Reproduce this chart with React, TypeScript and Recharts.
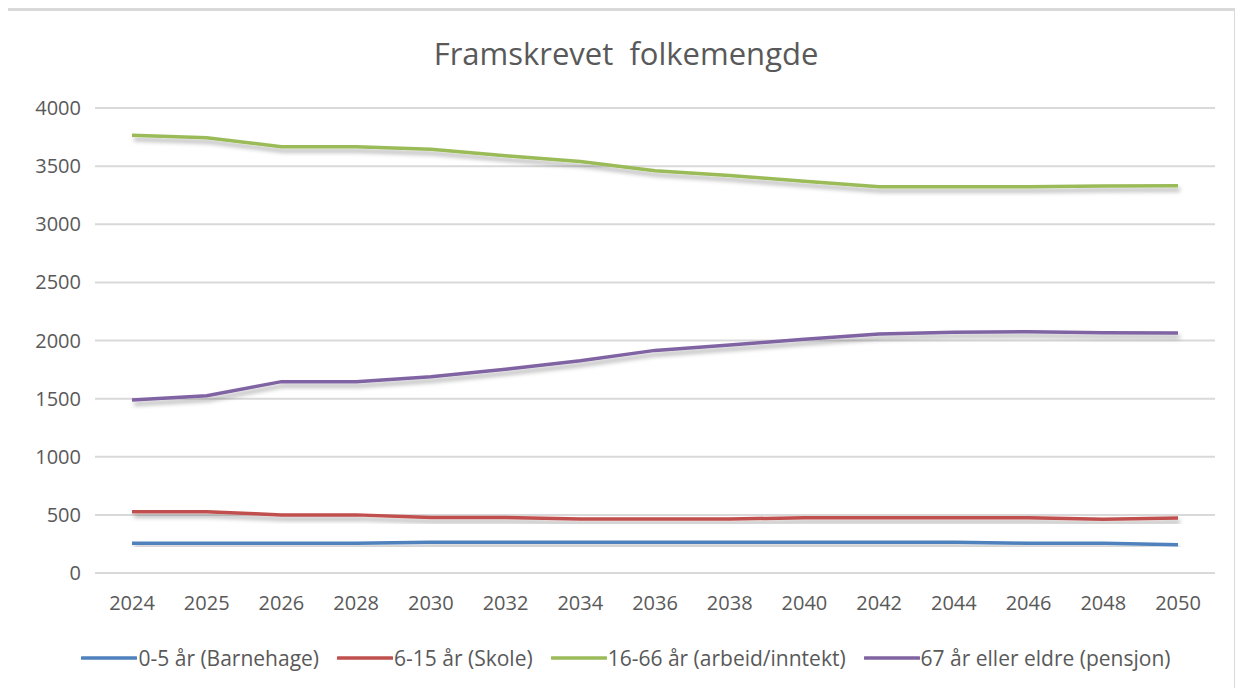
import React from 'react';
import { LineChart, Line, XAxis, YAxis, CartesianGrid } from 'recharts';

const years = ['2024', '2025', '2026', '2028', '2030', '2032', '2034', '2036', '2038', '2040', '2042', '2044', '2046', '2048', '2050'];
const barnehage = [255, 255, 255, 255, 265, 265, 265, 265, 265, 265, 265, 265, 255, 255, 243];
const skole = [527, 527, 500, 500, 477, 477, 464, 464, 464, 476, 476, 476, 476, 462, 473];
const arbeid = [3765, 3745, 3667, 3667, 3645, 3590, 3540, 3460, 3420, 3370, 3323, 3323, 3323, 3330, 3332];
const pensjon = [1488, 1525, 1646, 1646, 1689, 1752, 1826, 1915, 1961, 2010, 2056, 2070, 2076, 2067, 2065];
const yTicks = [0, 500, 1000, 1500, 2000, 2500, 3000, 3500, 4000];

const series = [
  { key: 'b', name: '0-5 år (Barnehage)', color: '#4F81BD', values: barnehage },
  { key: 's', name: '6-15 år (Skole)', color: '#C0504D', values: skole },
  { key: 'a', name: '16-66 år (arbeid/inntekt)', color: '#9BBB59', values: arbeid },
  { key: 'p', name: '67 år eller eldre (pensjon)', color: '#8064A2', values: pensjon },
];

const data = years.map((y, i) => {
  const row: any = { year: y };
  series.forEach((s) => (row[s.key] = s.values[i]));
  return row;
});

const FONT = '"Open Sans", "Liberation Sans", sans-serif';
const TEXT = '#595959';

export default function App() {
  return (
    <div style={{ position: 'relative', width: 1236, height: 690 }}>
      <svg width={0} height={0} style={{ position: 'absolute' }}>
        <defs>
          <filter id="lineShadow" x="-5%" y="-50%" width="110%" height="200%">
            <feDropShadow dx={2} dy={4} stdDeviation={2} floodColor="#000" floodOpacity={0.3} />
          </filter>
        </defs>
      </svg>
      <div
        style={{
          position: 'absolute',
          left: -5,
          top: 0,
          width: 1232,
          height: 700,
          borderTop: '3px solid #d9d9d9',
          borderLeft: '3px solid #d9d9d9',
          borderRight: '1px solid #d9d9d9',
          boxSizing: 'border-box',
        }}
      />
      <div
        style={{
          position: 'absolute',
          left: 0,
          top: 24,
          width: 1236,
          textAlign: 'center',
          fontFamily: FONT,
          fontSize: 31,
          color: TEXT,
          whiteSpace: 'pre',
        }}
      >
        {'Framskrevet  folkemengde'}
      </div>
      <div style={{ position: 'absolute', left: 0, top: 0 }}>
        <LineChart width={1236} height={680} data={data} margin={{ top: 100, right: 29, bottom: 0, left: 0 }}>
          <CartesianGrid vertical={false} stroke="#d9d9d9" strokeWidth={2} />
          <XAxis
            dataKey="year"
            padding={{ left: 37, right: 37 }}
            axisLine={{ stroke: '#d9d9d9', strokeWidth: 2 }}
            tickLine={false}
            tickSize={0}
            tickMargin={23}
            height={115}
            interval={0}
            tick={{ fill: TEXT, fontSize: 20, fontFamily: FONT }}
          />
          <YAxis
            domain={[0, 4000]}
            ticks={yTicks}
            width={87}
            axisLine={false}
            tickLine={false}
            tickSize={0}
            tickMargin={14}
            tick={{ fill: TEXT, fontSize: 20, fontFamily: FONT }}
          />
          {series.map((s) => (
            <Line
              key={s.key}
              dataKey={s.key}
              name={s.name}
              stroke={s.color}
              strokeWidth={3.5}
              dot={false}
              activeDot={false}
              type="linear"
              isAnimationActive={false}
              style={{ filter: 'url(#lineShadow)' }}
            />
          ))}
        </LineChart>
      </div>
      <div
        style={{
          position: 'absolute',
          left: 0,
          top: 636,
          width: 1236,
          display: 'flex',
          justifyContent: 'center',
          alignItems: 'center',
          fontFamily: FONT,
          fontSize: 21,
          color: TEXT,
        }}
      >
        {series.map((s) => (
          <div key={s.key} style={{ display: 'flex', alignItems: 'center', margin: '0 9px' }}>
            <svg width={56} height={10} style={{ marginRight: 1 }}>
              <line x1={1} y1={5} x2={55} y2={5} stroke={s.color} strokeWidth={3.5} strokeLinecap="round" />
            </svg>
            <span>{s.name}</span>
          </div>
        ))}
      </div>
    </div>
  );
}
